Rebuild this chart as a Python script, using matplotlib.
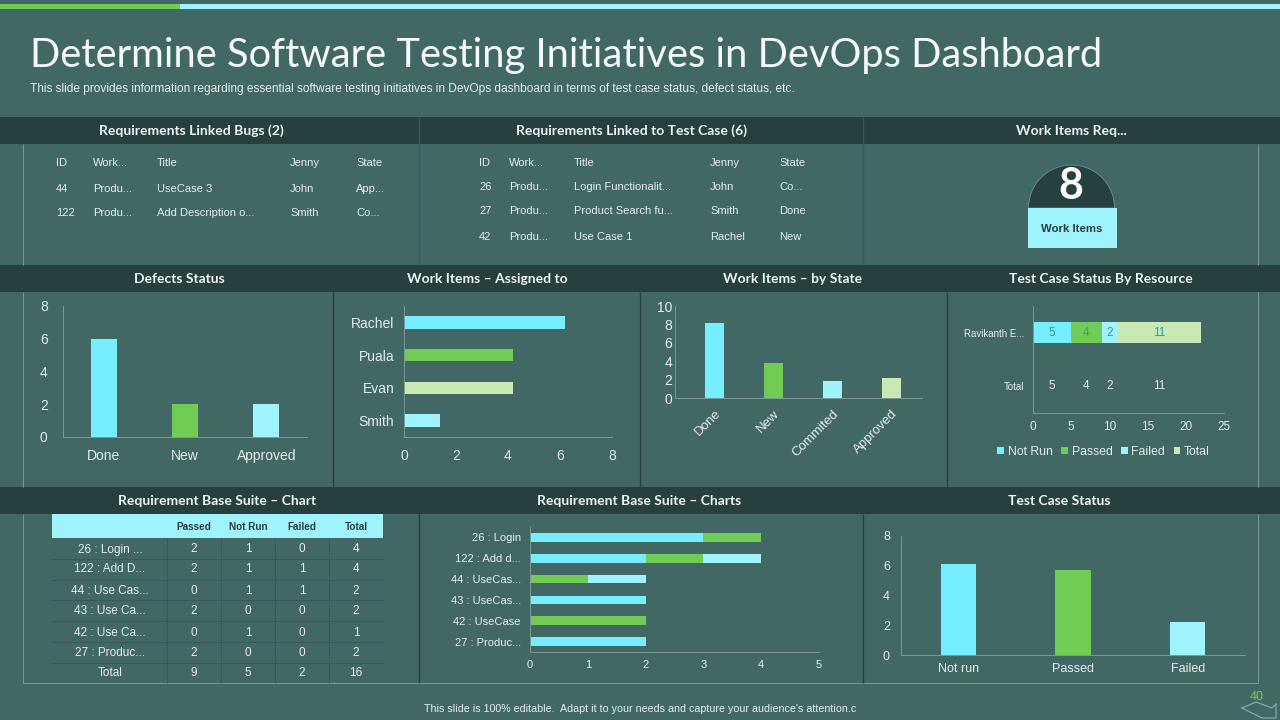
import matplotlib
matplotlib.use('Agg')
import matplotlib.pyplot as plt
from matplotlib.patches import Rectangle, Wedge

# colours
BG = '#426866'
BAND = '#283F40'
BLUE = '#77EEFF'
GREEN = '#70CC54'
LIGHT = '#9EF3FC'
PALE = '#C8E9B4'
TXT = '#E6EEEE'
AXIS = '#7C9A98'
DARK = '#2F5A6A'

# data
defect_cats = ['Done', 'New', 'Approved']
defect_vals = [6, 2, 2]

assigned_names = ['Rachel', 'Puala', 'Evan', 'Smith']
assigned_vals = [6.2, 4.2, 4.2, 1.4]

state_cats = ['Done', 'New', 'Commited', 'Approved']
state_vals = [8.2, 3.8, 1.8, 2.2]

resource_names = ['Ravikanth E...', 'Total']
resource_series = ['Not Run', 'Passed', 'Failed', 'Total']
resource_vals = [5, 4, 2, 11]

suite_names = ['26 : Login', '122 : Add d...', '44 : UseCas...', '43 : UseCas...', '42 : UseCase', '27 : Produc...']
suite_notrun = [3, 2, 0, 2, 0, 2]
suite_passed = [1, 1, 1, 0, 2, 0]
suite_failed = [0, 1, 1, 0, 0, 0]

status_cats = ['Not run', 'Passed', 'Failed']
status_vals = [6.1, 5.7, 2.2]

bugs_rows = [['ID', 'Work...', 'Title', 'Jenny', 'State'],
             ['44', 'Produ...', 'UseCase 3', 'John', 'App...'],
             ['122', 'Produ...', 'Add Description o...', 'Smith', 'Co...']]
linked_rows = [['ID', 'Work...', 'Title', 'Jenny', 'State'],
               ['26', 'Produ...', 'Login Functionalit...', 'John', 'Co...'],
               ['27', 'Produ...', 'Product Search fu...', 'Smith', 'Done'],
               ['42', 'Produ...', 'Use Case 1', 'Rachel', 'New']]

table_cols = ['Passed', 'Not Run', 'Failed', 'Total']
table_names = ['26 : Login ...', '122 : Add D...', '44 : Use Cas...', '43 : Use Ca...',
               '42 : Use Ca...', '27 : Produc...', 'Total']
table_vals = [[2, 1, 0, 4], [2, 1, 1, 4], [0, 1, 1, 2], [2, 0, 0, 2],
              [0, 1, 0, 1], [2, 0, 0, 2], [9, 5, 2, 16]]

plt.rcParams['font.family'] = ['Liberation Sans', 'DejaVu Sans']

fig = plt.figure(figsize=(12.8, 7.2), dpi=100, facecolor=BG)
bg = fig.add_axes([0, 0, 1, 1])
bg.set_xlim(0, 1280)
bg.set_ylim(720, 0)
bg.axis('off')


def chart_axes(left, right, top, bottom):
    ax = fig.add_axes([left / 1280, 1 - bottom / 720, (right - left) / 1280, (bottom - top) / 720])
    ax.patch.set_alpha(0)
    for s in ['top', 'right']:
        ax.spines[s].set_visible(False)
    for s in ['left', 'bottom']:
        ax.spines[s].set_color(AXIS)
        ax.spines[s].set_linewidth(0.7)
    ax.tick_params(length=0, colors=TXT, labelsize=10)
    return ax


def hline(y, x0, x1, color=AXIS, lw=0.7):
    bg.plot([x0, x1], [y, y], color=color, lw=lw, solid_capstyle='butt')


def vline(x, y0, y1, color=AXIS, lw=0.7):
    bg.plot([x, x], [y0, y1], color=color, lw=lw, solid_capstyle='butt')


# top strip
bg.add_patch(Rectangle((0, 4), 180, 5, color=GREEN, lw=0))
bg.add_patch(Rectangle((180, 4), 1100, 5, color=LIGHT, lw=0))

bg.text(30, 55, 'Determine Software Testing Initiatives in DevOps Dashboard', fontsize=28.7,
        family='Lato', color='#F4F8F8', va='center', ha='left')
bg.text(30, 89, 'This slide provides information regarding essential software testing initiatives in DevOps '
        'dashboard in terms of test case status, defect status, etc.', fontsize=8.55, color=TXT, va='center')

# header bands
for y0, y1 in [(117, 144), (265, 292), (487, 514)]:
    bg.add_patch(Rectangle((0, y0), 1280, y1 - y0, color=BAND, lw=0, zorder=2))

headers = [('Requirements Linked Bugs (2)', 191, 131), ('Requirements Linked to Test Case (6)', 632, 131),
           ('Work Items Req...', 1071, 131), ('Defects Status', 179, 279), ('Work Items \u2013 Assigned to', 487, 279),
           ('Work Items \u2013 by State', 793, 279), ('Test Case Status By Resource', 1101, 279),
           ('Requirement Base Suite \u2013 Chart', 217, 501), ('Requirement Base Suite \u2013 Charts', 639, 501),
           ('Test Case Status', 1059, 501)]
for label, x, y in headers:
    bg.text(x, y, label, color='#EEF4F4', fontsize=10, family='Lato', weight='bold', ha='center', va='center', zorder=3)

# panel frame lines
vline(23, 144, 265)
vline(23, 292, 487)
vline(23, 514, 683)
hline(683, 23, 1258)
vline(1258, 144, 265)
vline(1258, 292, 487)
vline(1258, 514, 683)
vline(419, 117, 265, DARK, 1)
vline(863, 117, 265, DARK, 1)
vline(333, 292, 487, BAND, 1)
vline(640, 292, 487, BAND, 1)
vline(947, 292, 487, BAND, 1)
vline(419, 514, 683, BAND, 1)
vline(863, 514, 683, BAND, 1)

# small tables on the first row
for rows, xs, ys in [(bugs_rows, [56, 93, 157, 290, 356], [162.5, 188.5, 213.5]),
                     (linked_rows, [479, 509, 574, 710, 779], [162.5, 187.5, 211.5, 236.5])]:
    for row, y in zip(rows, ys):
        for cell, x in zip(row, xs):
            bg.text(x, y, cell, color=TXT, fontsize=8, va='center', ha='left')

# work items card
bg.add_patch(Wedge((1071.5, 208), 43, 180, 360, facecolor=BAND, edgecolor=AXIS, lw=0.5, zorder=2))
bg.add_patch(Rectangle((1028, 208), 89, 40, color=LIGHT, lw=0, zorder=2))
bg.text(1071, 186, '8', color='white', fontsize=31, family='Lato', weight='bold', ha='center', va='center', zorder=3)
bg.text(1071.5, 229, 'Work Items', color=BAND, fontsize=8.2, weight='bold', ha='center', va='center', zorder=3)

# Defects status
ax = chart_axes(63, 307, 306, 437)
ax.bar(defect_cats, defect_vals, color=[BLUE, GREEN, LIGHT], width=0.32)
ax.set_xlim(-0.5, 2.5)
ax.set_ylim(0, 8)
ax.set_yticks(range(0, 9, 2))
ax.tick_params(axis='x', pad=9)
ax.tick_params(axis='y', pad=11)

# Work items assigned
ax = chart_axes(404, 612, 306, 437)
ax.barh(assigned_names, assigned_vals, color=[BLUE, GREEN, PALE, LIGHT], height=0.38)
ax.set_ylim(3.5, -0.5)
ax.set_xlim(0, 8)
ax.set_xticks(range(0, 9, 2))
ax.tick_params(axis='x', pad=9)
ax.tick_params(axis='y', pad=7)

# Work items by state
ax = chart_axes(675, 922, 306, 398)
ax.bar(state_cats, state_vals, color=[BLUE, GREEN, LIGHT, PALE], width=0.32)
ax.set_xlim(-0.67, 3.52)
ax.set_ylim(0, 10)
ax.set_yticks(range(0, 11, 2))
ax.tick_params(axis='y', pad=2)
ax.tick_params(axis='x', pad=7, labelsize=9.5)
plt.setp(ax.get_xticklabels(), rotation=45, ha='right', rotation_mode='anchor')

# Test case status by resource
ax = chart_axes(1033, 1224, 306, 413)
left = 0
for name, val, col in zip(resource_series, resource_vals, [BLUE, GREEN, LIGHT, PALE]):
    ax.barh(0, val, left=left, color=col, height=0.4, label=name)
    ax.text(left + val / 2, 0, str(val), color='#2B9AA6', fontsize=8.5, ha='center', va='center')
    ax.text(left + val / 2, 1, str(val), color=TXT, fontsize=8.5, ha='center', va='center')
    left += val
ax.set_yticks([0, 1])
ax.set_yticklabels(resource_names, fontsize=7)
ax.set_ylim(1.5, -0.5)
ax.set_xlim(0, 25)
ax.set_xticks(range(0, 26, 5))
ax.tick_params(axis='x', labelsize=8.5, pad=6)
ax.tick_params(axis='y', pad=6)
ax.legend(loc='upper center', bbox_to_anchor=(0.37, -0.26), ncol=4, frameon=False, fontsize=8.8, labelcolor=TXT,
          handlelength=0.55, handleheight=0.55, handletextpad=0.3, columnspacing=0.7, borderaxespad=0)

# Requirement base suite table
col_xs = [194, 248, 302, 356]
row_ys = [549.5, 569.5, 590.5, 611.5, 632.5, 652.5, 673.5]
bg.add_patch(Rectangle((52, 514), 331, 24, color=LIGHT, lw=0, zorder=2))
for col, x in zip(table_cols, col_xs):
    bg.text(x, 526.5, col, color=BAND, fontsize=7.2, weight='bold', ha='center', va='center', zorder=3)
for name, vals, y in zip(table_names, table_vals, row_ys):
    bg.text(110, y, name, color=TXT, fontsize=8.5, ha='center', va='center')
    for v, x in zip(vals, col_xs):
        bg.text(x, y, str(v), color=TXT, fontsize=8.5, ha='center', va='center')
for y in [559, 580, 600, 621, 642, 663]:
    hline(y, 52, 383, '#38595A', 0.7)
for x in [167, 221, 275, 329]:
    vline(x, 538, 683, '#38595A', 0.7)

# Requirement base suite charts
ax = chart_axes(530, 819, 527, 652)
ax.barh(suite_names, suite_notrun, color=BLUE, height=0.42)
ax.barh(suite_names, suite_passed, left=suite_notrun, color=GREEN, height=0.42)
lefts = [a + b for a, b in zip(suite_notrun, suite_passed)]
ax.barh(suite_names, suite_failed, left=lefts, color=LIGHT, height=0.42)
ax.set_ylim(5.5, -0.5)
ax.set_xlim(0, 5)
ax.tick_params(axis='both', labelsize=8)
ax.tick_params(axis='y', pad=6.5)
ax.tick_params(axis='x', pad=6)

# Test case status
ax = chart_axes(901, 1245, 536, 655)
ax.bar(status_cats, status_vals, color=[BLUE, GREEN, LIGHT], width=0.31)
ax.set_xlim(-0.5, 2.5)
ax.set_ylim(0, 8)
ax.set_yticks(range(0, 9, 2))
ax.tick_params(axis='both', labelsize=9)
ax.tick_params(axis='x', pad=6)
ax.tick_params(axis='y', pad=8)

# footer
bg.text(640, 708.5, "This slide is 100% editable.  Adapt it to your needs and capture your audience's attention.c",
        color=TXT, fontsize=7.65, ha='center', va='center')
bg.text(1257, 697, '40', color=GREEN, fontsize=9, ha='center', va='center')
bg.plot([1242, 1256, 1272, 1276], [708, 702, 708, 704], color='#7FB5B5', lw=0.8)
bg.plot([1242, 1262, 1276, 1276], [708, 718, 718, 704], color='#7FB5B5', lw=0.8)

fig.savefig('out.png', dpi=100, facecolor=BG)
